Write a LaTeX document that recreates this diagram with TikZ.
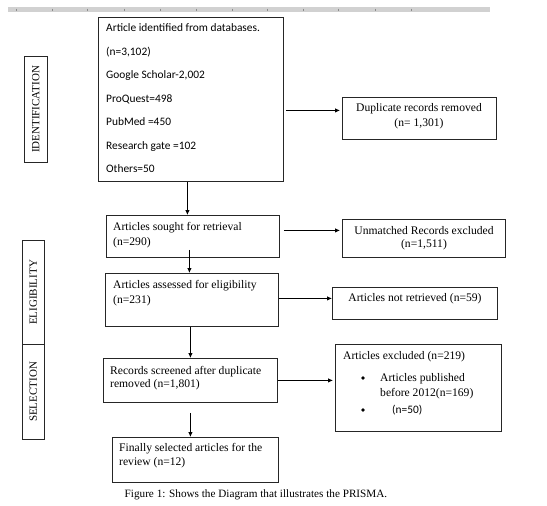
\documentclass[tikz,border=0pt]{standalone}
\usepackage{fontspec}
\setmainfont{Liberation Serif}
\newfontfamily\calib{Carlito}
\usetikzlibrary{arrows.meta}
\newcommand\myfs{\fontsize{11.6}{13}\selectfont}
\newcommand\mysfs{\fontsize{11.4}{13}\selectfont}
\newcommand\mycfs{\fontsize{11.2}{13}\selectfont}
\newcommand\mylfs{\fontsize{11}{13}\selectfont}
\begin{document}
\begin{tikzpicture}[x=1pt,y=-1pt,
  box/.style={draw=black!85, line width=0.8pt, anchor=north west, inner sep=0pt},
  txt/.style={anchor=base west, inner sep=0pt, font=\myfs},
  ctxt/.style={anchor=base, inner sep=0pt, font=\myfs},
  stxt/.style={anchor=base west, inner sep=0pt, font=\calib\mysfs},
  lab/.style={rotate=90, inner sep=0pt, font=\mylfs},
  bul/.style={circle, fill=black, inner sep=0pt, minimum size=3.6pt},
  arr/.style={draw=black, line width=0.8pt, -{Latex[length=5pt,width=4.5pt]}},
  tick/.style={draw=black!45, line width=0.8pt}]
\useasboundingbox (0,0) rectangle (547,506);
% ruler
\fill[black!18] (8,7) rectangle (490,12);
\foreach \tx in {16,52,87,124,160,196,232,267,303,338,375,411}
  \draw[tick] (\tx,8.5) -- (\tx,10.5);
% side labels
\node[box, minimum width=23pt, minimum height=106pt] (lid) at (24,56) {};
\node[lab] (lidt) at (lid.center) {IDENTIFICATION};
\node[box, minimum width=22pt, minimum height=104pt] (lel) at (22,240) {};
\node[lab] (lelt) at (lel.center) {ELIGIBILITY};
\node[box, minimum width=22pt, minimum height=95pt] (lse) at (22,344) {};
\node[lab] (lset) at (lse.center) {SELECTION};
% box 1
\node[box, minimum width=185pt, minimum height=164pt] (b1) at (98,17) {};
\node[stxt] (b1a) at (106,31.5) {Article identified from databases.};
\node[stxt] (b1b) at (106,55.5) {(n=3,102)};
\node[stxt] (b1c) at (106,78.5) {Google Scholar-2,002};
\node[stxt] (b1d) at (106,102.5) {ProQuest=498};
\node[stxt] (b1e) at (106,125.5) {PubMed =450};
\node[stxt] (b1f) at (106,149.5) {Research gate =102};
\node[stxt] (b1g) at (106,172.5) {Others=50};
% duplicates
\node[box, minimum width=154pt, minimum height=42pt] (dup) at (342,97) {};
\node[ctxt] (dupa) at (419,111.5) {Duplicate records removed};
\node[ctxt] (dupb) at (419,126.5) {(n= 1,301)};
% box 2
\node[box, minimum width=173pt, minimum height=42pt] (b2) at (106,215) {};
\node[txt] (b2a) at (113,230.5) {Articles sought for retrieval};
\node[txt] (b2b) at (113,245.5) {(n=290)};
% unmatched
\node[box, minimum width=163pt, minimum height=38pt] (unm) at (342,219) {};
\node[ctxt] (unma) at (424,234.5) {Unmatched Records excluded};
\node[ctxt] (unmb) at (424,247.5) {(n=1,511)};
% box 3
\node[box, minimum width=173pt, minimum height=53pt] (b3) at (105,273) {};
\node[txt] (b3a) at (113,288.5) {Articles assessed for eligibility};
\node[txt] (b3b) at (113,303.5) {(n=231)};
% not retrieved
\node[box, minimum width=165pt, minimum height=32pt] (nr) at (332,287) {};
\node[ctxt] (nra) at (415,301.5) {Articles not retrieved (n=59)};
% box 4
\node[box, minimum width=174pt, minimum height=44pt] (b4) at (103,358) {};
\node[txt] (b4a) at (110,374.5) {Records screened after duplicate};
\node[txt] (b4b) at (110,387) {removed (n=1,801)};
% excluded
\node[box, minimum width=166pt, minimum height=87pt] (exc) at (335,344) {};
\node[txt] (exca) at (343,359.5) {Articles excluded (n=219)};
\node[bul] (excb1) at (363,378) {};
\node[txt] (excb) at (380,381.5) {Articles published};
\node[txt] (excc) at (380,396.5) {before 2012(n=169)};
\node[bul] (excb2) at (363,410) {};
\node[stxt] (excd) at (392,413.5) {(n=50)};
% box 5
\node[box, minimum width=166pt, minimum height=45pt] (b5) at (112,437) {};
\node[txt] (b5a) at (119,451.5) {Finally selected articles for the};
\node[txt] (b5b) at (119,465.5) {review (n=12)};
% caption
\node[anchor=base, inner sep=0pt, font=\mycfs] (cap) at (256,497) {Figure 1: Shows the Diagram that illustrates the PRISMA.};
% connectors
\draw[arr] ([xshift=-3.5pt]b1.south) -- ([xshift=-3.5pt]b1.south |- b2.north);
\path ([yshift=8pt]dup.west) coordinate (dupin);
\draw[arr, shorten >=2pt] ([xshift=2pt]b1.east |- dupin) -- (dupin);
\draw[arr] ([xshift=-3.5pt,yshift=8pt]b2.south) -- ([xshift=-3.5pt]b2.south |- b3.north);
\path ([yshift=8pt]unm.west) coordinate (unmin);
\draw[arr, shorten >=2pt] ([xshift=4pt]b2.east |- unmin) -- (unmin);
\path ([yshift=5pt]nr.west) coordinate (nrin);
\draw[arr] (b3.east |- nrin) -- (nrin);
\draw[arr] ([xshift=-1.5pt]b3.south) -- ([xshift=-1.5pt]b3.south |- b4.north);
\draw[arr, shorten >=2pt] (b4.east) -- (b4.east -| exc.west);
\draw[arr] ([yshift=-10pt]b4.south) -- (b4.south |- b5.north);
\end{tikzpicture}
\end{document}
